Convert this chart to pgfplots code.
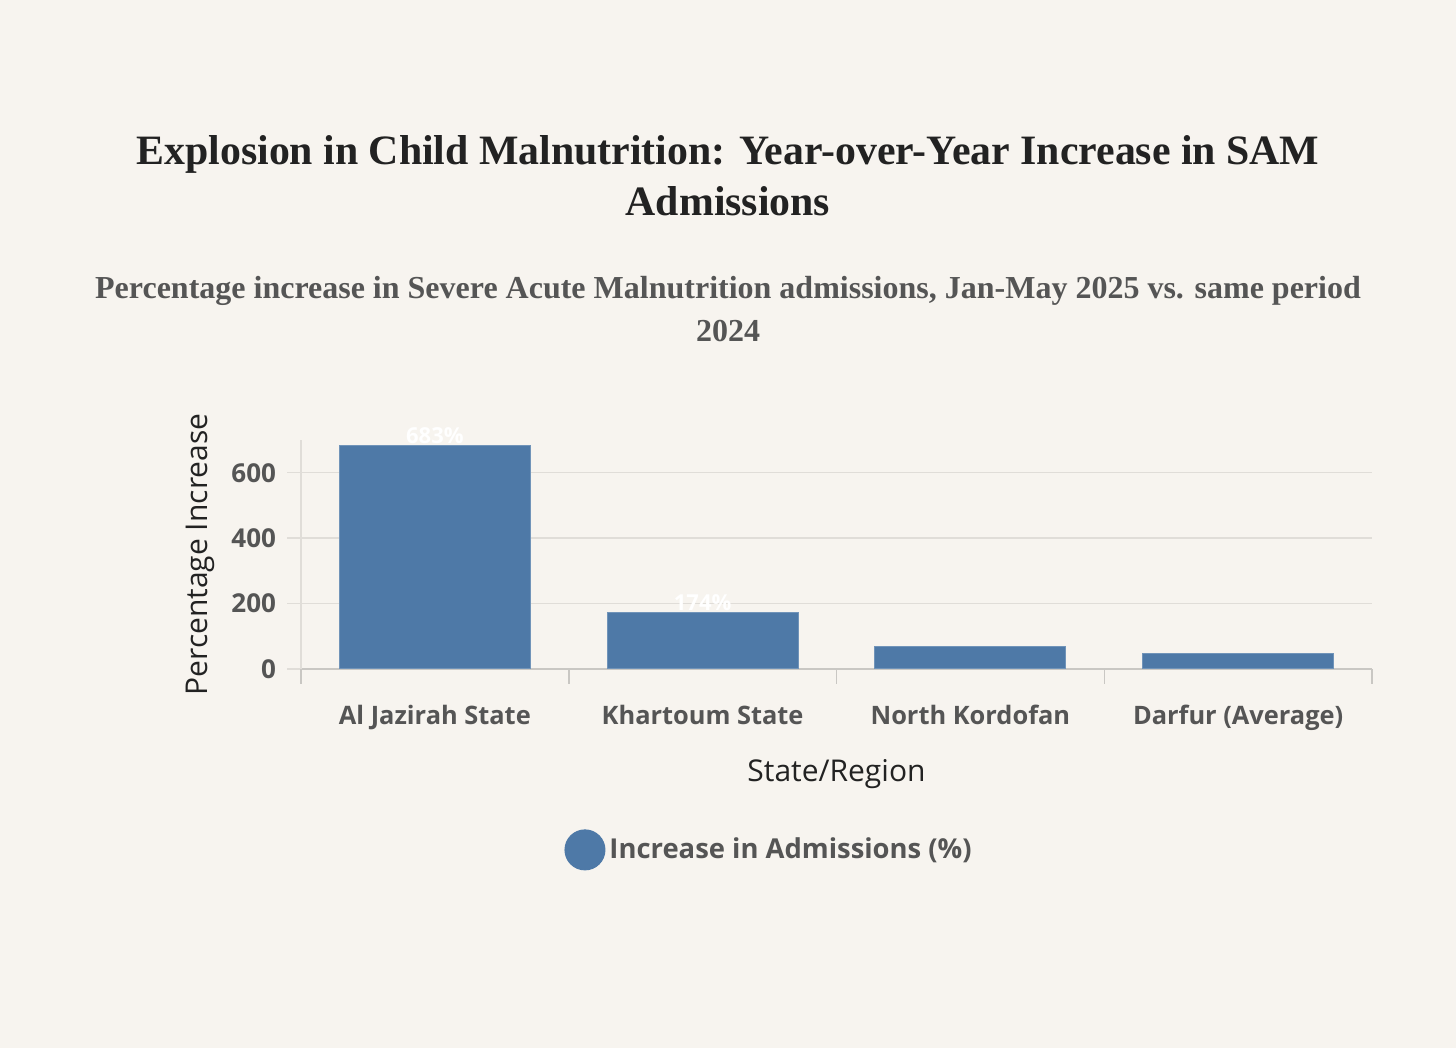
\documentclass[border=0pt]{standalone}
\usepackage{fontspec}
\usepackage{pgfplots}
\pgfplotsset{compat=1.18}
\setmainfont{Open Sans}
\newfontfamily\serifb{Liberation Serif}
\definecolor{bg}{HTML}{F7F4EF}
\definecolor{barblue}{HTML}{4E79A7}
\definecolor{gridc}{HTML}{E0DDD8}
\definecolor{axc}{HTML}{C9C7C3}
\definecolor{tickc}{HTML}{555555}
\definecolor{titc}{HTML}{222222}
\begin{document}
\begin{tikzpicture}
\fill[bg] (0,0) rectangle (728pt,524pt);
\useasboundingbox (0,0) rectangle (728pt,524pt);
% titles
\node[anchor=base, font=\serifb\bfseries\fontsize{20.9}{24}\selectfont, text=titc] at (364pt,441.5pt) {Explosion in Child Malnutrition: Year-over-Year Increase in SAM};
\node[anchor=base, font=\serifb\bfseries\fontsize{20.9}{24}\selectfont, text=titc] at (364pt,416pt) {Admissions};
\node[anchor=base, font=\serifb\bfseries\fontsize{16}{19}\selectfont, text=tickc] at (364pt,374.5pt) {Percentage increase in Severe Acute Malnutrition admissions, Jan-May 2025 vs. same period};
\node[anchor=base, font=\serifb\bfseries\fontsize{16}{19}\selectfont, text=tickc] at (364pt,353pt) {2024};
\begin{axis}[
  at={(150.5pt,189.5pt)}, anchor=south west,
  scale only axis, width=535.5pt, height=114.5pt,
  xmin=-0.5, xmax=3.5, ymin=0, ymax=700,
  axis x line*=bottom, axis y line*=left,
  x axis line style={draw=axc, line width=0.8pt, -},
  y axis line style={draw=gridc, line width=0.8pt, -},
  ytick={0,200,400,600},
  ymajorgrids, major grid style={draw=gridc, line width=0.75pt},
  ytick style={draw=gridc, line width=0.75pt},
  tick align=outside, major tick length=7pt,
  xtick={0,1,2,3},
  xticklabels={Al Jazirah State, Khartoum State, North Kordofan, Darfur (Average)},
  xtick style={draw=none},
  extra x ticks={-0.5,0.5,1.5,2.5,3.5},
  extra x tick labels={},
  extra x tick style={xtick style={draw=axc, line width=0.75pt}, major tick length=7.5pt},
  /pgf/number format/assume math mode=true,
  tick label style={font=\bfseries\fontsize{13}{15}\selectfont, text=tickc},
  xticklabel style={font=\bfseries\fontsize{12.7}{15}\selectfont, anchor=base, yshift=-21pt},
  yticklabel style={anchor=east, xshift=-2pt},
  ylabel={Percentage Increase},
  ylabel style={at={(axis description cs:-0.0943,0.5)}, anchor=center, font=\fontsize{15}{17}\selectfont, text=titc},
  xlabel={State/Region},
  xlabel style={at={(axis description cs:0.5,-0.4585)}, anchor=center, font=\fontsize{15}{17}\selectfont, text=titc},
  legend style={at={(axis description cs:0.438,-0.790)}, anchor=center, draw=none, fill=none,
    font=\bfseries\fontsize{13.7}{16}\selectfont, text=tickc},
  legend image code/.code={\fill[barblue] (0pt,0pt) circle (10pt);},
]
\addplot[ybar, bar width=95.5pt, fill=barblue, draw=barblue!80!white, line width=0.5pt,
  point meta=explicit symbolic, nodes near coords,
  every node near coord/.append style={text=white, font=\bfseries\fontsize{11}{13}\selectfont, anchor=base, yshift=1pt}]
  coordinates {(0,683) [683\%] (1,174) [174\%] (2,70) [] (3,46) []};
\addlegendentry{Increase in Admissions (\%)}
\end{axis}
\end{tikzpicture}
\end{document}
